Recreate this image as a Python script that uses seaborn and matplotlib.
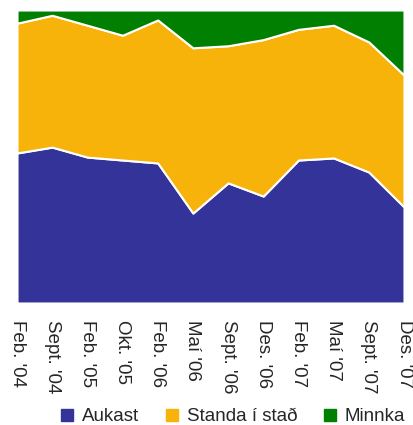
import numpy as np
import pandas as pd
import seaborn as sns
import matplotlib.pyplot as plt
from matplotlib.lines import Line2D

months = ["Feb. '04", "Sept. '04", "Feb. '05", "Okt. '05", "Feb. '06", "Maí '06",
          "Sept. '06", "Des. '06", "Feb. '07", "Maí '07", "Sept. '07", "Des. '07"]
aukast = [51.2, 53.2, 49.8, 48.8, 47.8, 30.7, 41.0, 36.5, 48.8, 49.5, 44.7, 32.8]
minnka = [4.5, 1.8, 5.2, 8.6, 3.4, 12.9, 12.2, 10.1, 6.6, 5.2, 10.9, 22.2]
standa = [100 - a - m for a, m in zip(aukast, minnka)]

df = pd.DataFrame({"Aukast": aukast, "Standa í stað": standa, "Minnka": minnka}, index=months)
colors = ["#333399", "#F7B30A", "#007F00"]

sns.set_theme(style="white")
plt.rcParams['font.family'] = ['Liberation Sans', 'DejaVu Sans']

fig = plt.figure(figsize=(4.14, 4.25), dpi=100)
ax = fig.add_axes([17/414, 122/425, 387/414, 293/425])

x = np.arange(len(months))
ax.stackplot(x, df.T.values, colors=colors, edgecolor="white", linewidth=1.5)
ax.set_xlim(0, len(months) - 1)
ax.set_ylim(0, 100)
ax.set_xticks(x)
ax.set_xticklabels(months, rotation=270, fontsize=13.5, va="top", ha="center")
ax.tick_params(axis="x", length=0, pad=12)
ax.set_yticks([])
for s in ax.spines.values():
    s.set_visible(False)

handles = [Line2D([], [], marker="s", linestyle="none", markersize=8, color=c) for c in colors]
fig.legend(handles, df.columns, loc="lower right", bbox_to_anchor=(1.02, -0.04), ncol=3,
           frameon=False, fontsize=13.5, handletextpad=0.4, columnspacing=1.35, handlelength=0.8)

fig.savefig("out.png", dpi=100)
